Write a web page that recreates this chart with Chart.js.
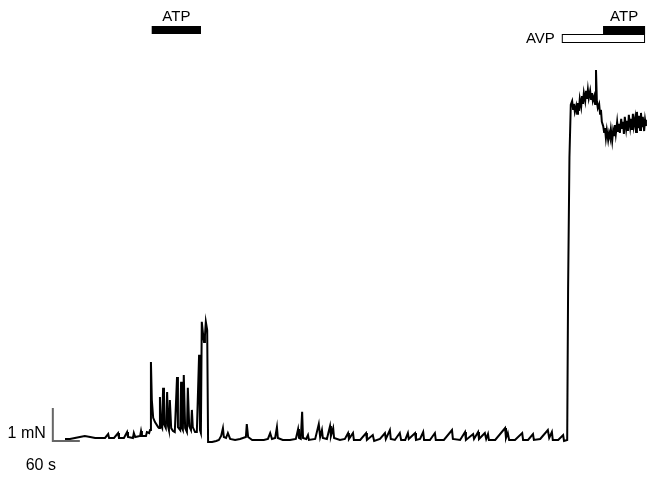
<!DOCTYPE html>
<html>
<head>
<meta charset="utf-8">
<script src="https://cdn.jsdelivr.net/npm/chart.js@4/dist/chart.umd.min.js"></script>
<style>
  html, body { margin: 0; padding: 0; background: #fff; }
  #wrap { width: 654px; height: 483px; position: relative; }
</style>
</head>
<body>
<div id="wrap"><canvas id="traceChart"></canvas></div>
<script>
// force trace: time (s) and force (mN)
const timeSec = [
  0, 11, 22, 33, 44, 56, 67, 78, 89, 96, 98, 109, 118, 120, 131, 138, 140, 151, 153, 156, 167, 169, 171, 180, 182, 187, 189,
  191, 193, 196, 200, 207, 209, 211, 213, 216, 218, 220, 224, 227, 229, 231, 233, 236, 240, 244, 249, 251, 256, 258, 260,
  262, 264, 267, 271, 273, 276, 280, 282, 284, 289, 293, 298, 300, 302, 304, 307, 309, 311, 313, 316, 318, 327, 336, 342,
  347, 351, 353, 358, 362, 367,
  378, 389, 402, 404, 407, 416, 429, 442, 451, 456, 460, 467, 471, 473, 484, 500, 513, 518, 520, 524, 527, 529, 536, 540,
  542, 556, 564, 567, 571, 573, 582, 589, 591, 596, 598, 611, 622, 629, 631, 640, 642, 656, 669, 671, 684, 687, 700, 711,
  713, 722, 724, 733, 744, 747, 756, 762, 764, 778, 780, 789, 796, 798, 811, 822, 824, 842, 860, 862, 878, 889, 891, 907,
  909, 918, 920, 933, 936, 940, 942, 956, 978, 980, 984, 987, 1000, 1016, 1018, 1029, 1040, 1042, 1056, 1073, 1076, 1082,
  1084, 1096, 1107, 1109, 1116,
  1118, 1121, 1124, 1127, 1129, 1131, 1133, 1136, 1138, 1140, 1142, 1144, 1147, 1149, 1151, 1153, 1156, 1158, 1160, 1162,
  1164, 1167, 1169, 1171, 1173, 1176, 1178, 1180, 1182, 1184, 1187, 1189, 1191, 1193,
  1196, 1198, 1200, 1202, 1204, 1207, 1209, 1211, 1213, 1216, 1218, 1220, 1222, 1224,
  1227, 1229, 1231, 1233, 1236, 1238, 1240, 1242, 1244, 1247, 1249, 1251, 1253, 1256, 1258, 1260, 1262, 1264, 1267, 1269,
  1271, 1273, 1276, 1278, 1280, 1282, 1284, 1287, 1289, 1291
];
const forceMN = [
  -0.03, -0.03, 0, 0.03, 0.06, 0.03, 0, 0, 0, 0.12, 0, 0, 0.15, 0, 0, 0.18, 0.03, 0, 0.15, 0.03, 0.06, 0.21, 0.06, 0.06, 0.18, 0.15, 0.24,
  2.30, 1.15, 0.61, 0.48, 0.33, 0.30, 1.24, 0.39, 0.30, 1.52, 0.42, 0.30, 1.39, 0.36, 0.24, 1.15, 0.30, 0.21, 0.18, 1.85, 0.33, 0.24, 1.70, 0.30,
  0.24, 1.91, 0.30, 0.18, 1.52, 0.36, 0.24, 0.85, 0.33, 0.18, 0.18, 2.52, 0.24, 0.15, 3.52, 3.12, 2.91, 3.09, 3.52, 3.27, -0.12, -0.12, -0.09, -0.06,
  0.06, 0.30, 0.03, 0, 0.15, -0.03,
  -0.06, -0.03, 0.03, 0.42, 0.03, -0.06, -0.06, -0.06, -0.03, 0.15, -0.03, 0, 0.33, 0, -0.06, -0.06, -0.03, 0.27, 0, -0.03, 0.79, 0, -0.03, 0.09,
  -0.06, -0.03, 0.42, 0.03, 0.24, 0, -0.03, 0.36, 0.06, 0.30, 0, -0.06, -0.03, 0.15, -0.03, 0.15, -0.06, -0.06, 0.15, -0.06, 0.09, -0.09, -0.03, 0.15,
  -0.03, 0.24, -0.03, -0.06, 0.15, -0.06, -0.06, 0.15, -0.03, 0.15, -0.06, -0.03, 0.18, -0.06, -0.06, 0.15, -0.06, -0.06, 0.24, -0.03, -0.06, 0.18, -0.06, 0.12,
  -0.03, 0.18, -0.03, 0.15, -0.03, 0.12, -0.06, -0.06, 0.30, 0, 0.15, -0.06, -0.06, 0.15, -0.06, -0.06, 0.12, -0.06, -0.03, 0.24, 0, 0.18,
  -0.06, -0.06, 0.09, -0.09, -0.06,
  4.50, 8.50, 10.10, 10.21, 9.97, 10.12, 9.88, 10.06, 9.82, 10.15, 9.91, 10.27, 10.03, 10.36, 10.12, 10.45, 10.21, 10.52, 10.27, 10.55,
  10.30, 10.52, 10.27, 10.45, 10.21, 10.36, 10.12, 11.15, 10.18, 10.00, 10.12, 9.82, 9.94, 9.58,
  9.45, 9.27, 9.39, 9.09, 9.33, 9.03, 9.24, 9.12, 9.36, 9.00, 9.30, 9.15, 9.48, 9.21,
  9.58, 9.30, 9.52, 9.24, 9.67, 9.39, 9.58, 9.21, 9.73, 9.36, 9.61, 9.30, 9.79, 9.42, 9.67, 9.33, 9.82, 9.45, 9.70, 9.27,
  9.88, 9.39, 9.76, 9.33, 9.85, 9.42, 9.73, 9.30, 9.64, 9.45
];

// drug application periods (s)
const stimLabels = ['ATP', 'AVP', 'ATP'];
const stimStart = [193, 1104, 1196];
const stimEnd = [302, 1289, 1289];

// scale bar: 60 s by 1 mN
const scaleBarX = [-27, -27, 33];
const scaleBarY = [0.91, -0.09, -0.09];

const tracePoints = timeSec.map((t, i) => ({ x: t, y: forceMN[i] }));
const barPoints = scaleBarX.map((t, i) => ({ x: t, y: scaleBarY[i] }));

const annotate = {
  id: 'annotate',
  afterDraw(chart) {
    const ctx = chart.ctx;
    const xs = chart.scales.x;
    const ys = chart.scales.y;
    ctx.save();
    ctx.font = '15px "Liberation Sans", Arial, sans-serif';
    ctx.fillStyle = '#000';

    // drug bars
    const rows = [{ y: 26, h: 8, fill: '#000' }, { y: 34, h: 9, fill: '#fff' }, { y: 26, h: 8, fill: '#000' }];
    stimLabels.forEach((lab, i) => {
      const x0 = xs.getPixelForValue(stimStart[i]);
      const x1 = xs.getPixelForValue(stimEnd[i]);
      const r = rows[i];
      ctx.fillStyle = r.fill;
      ctx.strokeStyle = '#000';
      ctx.lineWidth = 1;
      ctx.fillRect(x0, r.y, x1 - x0, r.h);
      ctx.strokeRect(x0 + 0.5, r.y + 0.5, x1 - x0 - 1, r.h - 1);
      ctx.fillStyle = '#000';
      if (lab === 'AVP') {
        ctx.textAlign = 'right';
        ctx.textBaseline = 'middle';
        ctx.fillText(lab, x0 - 7, r.y + r.h / 2);
      } else {
        ctx.textAlign = 'center';
        ctx.textBaseline = 'bottom';
        ctx.fillText(lab, (x0 + x1) / 2, r.y - 2);
      }
    });

    // scale bar labels
    ctx.font = '16px "Liberation Sans", Arial, sans-serif';
    const bx = xs.getPixelForValue(scaleBarX[0]);
    const by = ys.getPixelForValue(scaleBarY[1]);
    ctx.textAlign = 'right';
    ctx.textBaseline = 'middle';
    ctx.fillText('1 mN', bx - 7, ys.getPixelForValue((scaleBarY[0] + scaleBarY[1]) / 2) + 9);
    ctx.textAlign = 'center';
    ctx.textBaseline = 'top';
    ctx.fillText('60 s', bx - 12, by + 17);
    ctx.restore();
  }
};

new Chart(document.getElementById('traceChart').getContext('2d'), {
  type: 'line',
  data: {
    datasets: [
      {
        data: tracePoints,
        borderColor: '#000',
        borderWidth: 2,
        pointRadius: 0,
        tension: 0,
      },
      {
        data: barPoints,
        borderColor: '#666',
        borderWidth: 2,
        pointRadius: 0,
        tension: 0,
      },
    ],
  },
  options: {
    responsive: true,
    maintainAspectRatio: false,
    animation: false,
    layout: { padding: 0 },
    plugins: { legend: { display: false }, tooltip: { enabled: false } },
    scales: {
      x: { type: 'linear', display: false, min: -144.4, max: 1308.9 },
      y: { display: false, min: -1.364, max: 13.27 },
    },
  },
  plugins: [annotate],
});
</script>
</body>
</html>
